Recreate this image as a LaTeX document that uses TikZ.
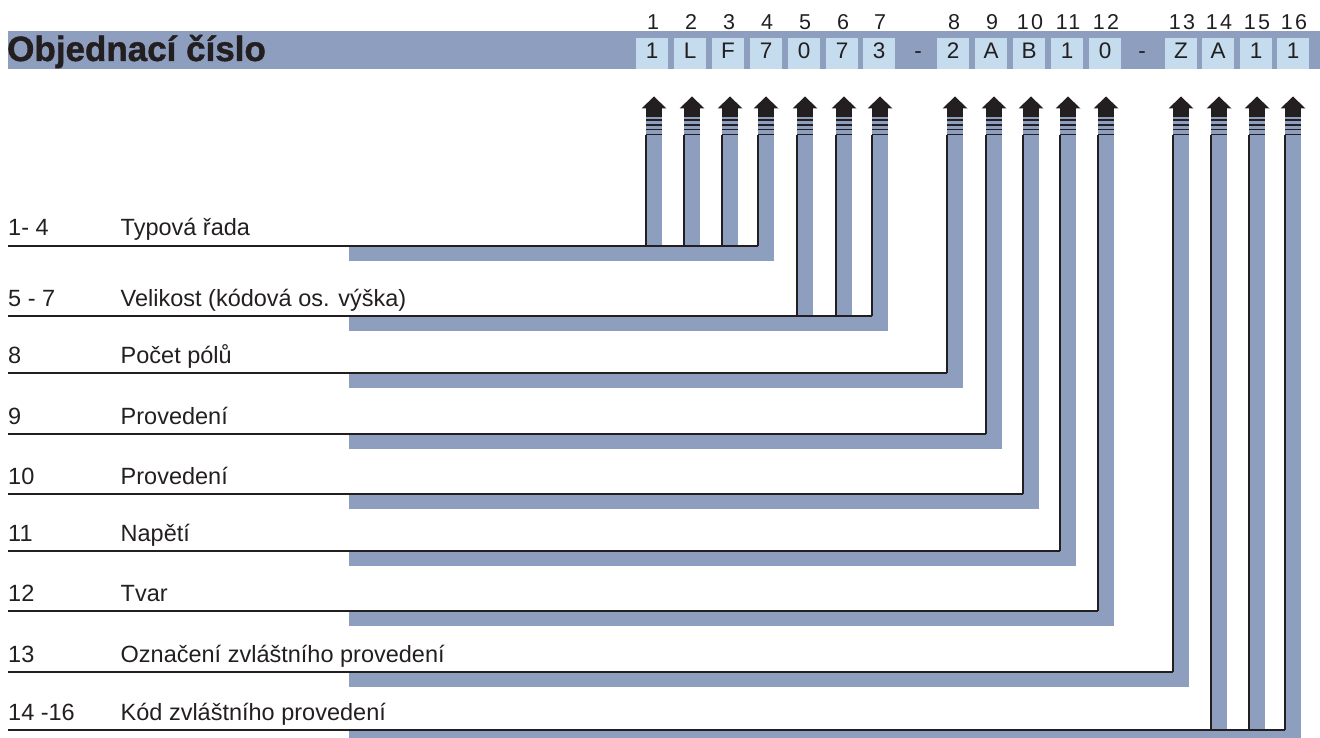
\documentclass[tikz,border=0pt]{standalone}
\usepackage{fontspec}
\setmainfont{Liberation Sans}
\newfontfamily\heavyfont[BoldFeatures={FakeBold=1.2}]{Liberation Sans}
\newfontfamily\widefont[LetterSpace=10]{Liberation Sans}
\definecolor{barblue}{RGB}{142,158,190}
\definecolor{cellblue}{RGB}{196,220,238}
\definecolor{ink}{RGB}{35,31,32}
\begin{document}
\begin{tikzpicture}[x=1pt,y=-1pt,
  titletext/.style={anchor=base west,inner sep=0pt,text=ink,font=\fontsize{35}{40}\heavyfont\bfseries},
  celltext/.style={anchor=base,inner sep=0pt,text=ink,font=\fontsize{22.5}{26}\selectfont},
  postext/.style={anchor=base,inner sep=0pt,text=ink,font=\fontsize{21.5}{26}\widefont},
  labeltext/.style={anchor=base west,inner sep=0pt,text=ink,font=\fontsize{23.5}{28}\selectfont},
  cellbox/.style={fill=cellblue,draw=none,inner sep=0pt,minimum width=32pt,minimum height=31pt},
  leader/.style={draw=ink,line width=1.4pt},
]
\useasboundingbox (0,0) rectangle (1320,738);
\clip (0,0) rectangle (1320,738);

% header bar
\fill[barblue] (8,31) rectangle (1320,69);
\node[titletext] (title) at (7,61) {Objednací číslo};

% code cells
\foreach \c/\t/\n in {652/1/1, 690/L/2, 728/F/3, 766/7/4, 804/0/5, 842/7/6, 879/3/7,
                      953/2/8, 991/A/9, 1029/B/10, 1067/1/11, 1105/0/12,
                      1181/Z/13, 1218/A/14, 1256/1/15, 1293/1/16}{
  \node[cellbox] (cell\n) at (\c,53.5) {};
  \node[celltext] (code\n) at (\c,58.5) {\t};
  \node[postext] (pos\n) at (\c+1,29.5) {\n};
}
\node[celltext] (dash1) at (918,58.5) {-};
\node[celltext] (dash2) at (1142,58.5) {-};

% blue bars of rows
\foreach \y/\xl in {246/758, 316/872, 373/947, 434/986, 494/1023, 551/1060, 611/1098, 672/1173, 730/1285}{
  \fill[barblue] (349,\y) rectangle (\xl+16,\y+15);
}

% blue stems
\foreach \xl/\y/\n in {646/246/1, 684/246/2, 722/246/3, 758/246/4, 797/316/5, 836/316/6, 872/316/7,
                       947/373/8, 986/434/9, 1023/494/10, 1060/551/11, 1098/611/12,
                       1173/672/13, 1211/730/14, 1249/730/15, 1285/730/16}{
  \fill[barblue] (\xl,108) rectangle (\xl+16,\y);
}

% row leader lines and labels
\foreach \y/\xl/\num/\desc [count=\r] in {246/758/{1- 4}/{Typová řada},
    316/872/{5 - 7}/{Velikost (kódová os. výška)},
    373/947/{8}/{Počet pólů},
    434/986/{9}/{Provedení},
    494/1023/{10}/{Provedení},
    551/1060/{11}/{Napětí},
    611/1098/{12}/{Tvar},
    672/1173/{13}/{Označení zvláštního provedení},
    730/1285/{14 -16}/{Kód zvláštního provedení}}{
  \coordinate (rowstart\r) at (8,\y);
  \coordinate (rowend\r) at (\xl,\y);
  \draw[leader] (rowstart\r) -- (rowend\r);
  \node[labeltext] (num\r) at (8,\y-10) {\num};
  \node[labeltext] (desc\r) at (120.5,\y-10) {\desc};
}

% vertical leaders and arrow heads
\foreach \xl/\y/\n in {646/246/1, 684/246/2, 722/246/3, 758/246/4, 797/316/5, 836/316/6, 872/316/7,
                       947/373/8, 986/434/9, 1023/494/10, 1060/551/11, 1098/611/12,
                       1173/672/13, 1211/730/14, 1249/730/15, 1285/730/16}{
  \coordinate (top\n) at (\xl,135);
  \coordinate (foot\n) at (\xl,\y);
  \draw[leader] (top\n) -- (foot\n);
  \fill[ink] (\xl-4.5,108.5) -- (\xl+8,96.5) -- (\xl+20.5,108.5) -- cycle;
  \fill[ink] (\xl,108) rectangle (\xl+16,117);
  \fill[ink] (\xl,119) rectangle (\xl+16,121.5);
  \fill[ink] (\xl,124) rectangle (\xl+16,126);
  \fill[ink] (\xl,129) rectangle (\xl+16,130.5);
  \fill[ink] (\xl,134) rectangle (\xl+16,135.5);
}
\end{tikzpicture}
\end{document}
